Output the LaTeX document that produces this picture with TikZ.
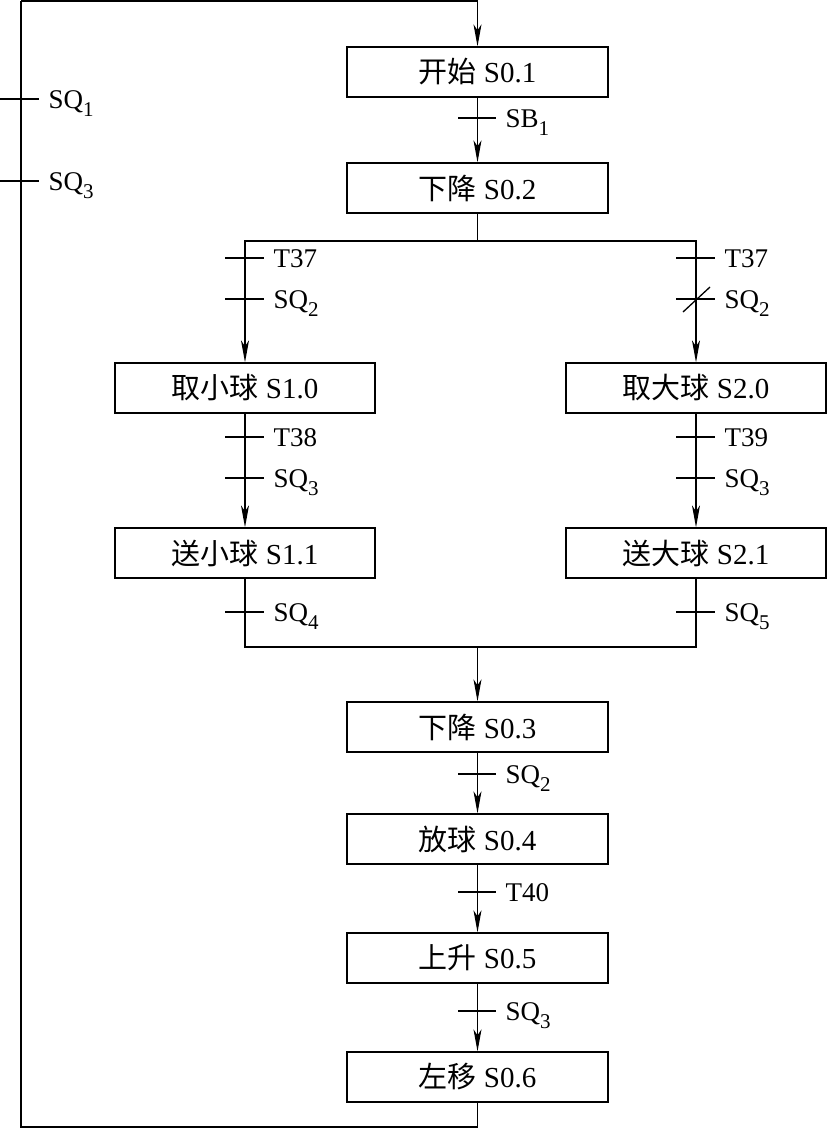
\documentclass[tikz,border=0pt]{standalone}
\usepackage{fontspec}
\setmainfont{Liberation Serif}
\newfontfamily\cjk{Noto Sans CJK SC}
\usetikzlibrary{arrows.meta,positioning,calc}
\newcommand\lowidx[1]{\raisebox{-8pt}{\fontsize{21}{21}\selectfont #1}}

\begin{document}
\begin{tikzpicture}[x=1pt,y=-1pt,
  sfcbox/.style={draw, line width=1.3pt, minimum width=261pt, minimum height=50pt,
                 inner sep=0pt, font=\fontsize{29}{29}\selectfont},
  cond/.style={anchor=base west, inner sep=0pt, xshift=9pt, yshift=-9pt,
               font=\fontsize{27}{27}\selectfont},
  flow/.style={line width=1.3pt},
  arr/.style={flow, -{Stealth[length=22pt,width=8pt,inset=6pt]}}]
  \useasboundingbox (0,0) rectangle (827,1128);

  % steps
  \node[sfcbox](s01) at (477.5,72){{\cjk 开始} S0.1};
  \node[sfcbox](s02) at (477.5,188){{\cjk 下降} S0.2};
  \node[sfcbox, minimum width=260pt](s10) at (245,388){{\cjk 取小球} S1.0};
  \node[sfcbox, minimum width=260pt](s20) at (696,388){{\cjk 取大球} S2.0};
  \node[sfcbox, minimum width=260pt](s11) at (245,553){{\cjk 送小球} S1.1};
  \node[sfcbox, minimum width=260pt](s21) at (696,553){{\cjk 送大球} S2.1};
  \node[sfcbox](s03) at (477.5,727){{\cjk 下降} S0.3};
  \node[sfcbox](s04) at (477.5,839){{\cjk 放球} S0.4};
  \node[sfcbox](s05) at (477.5,958){{\cjk 上升} S0.5};
  \node[sfcbox](s06) at (477.5,1077){{\cjk 左移} S0.6};

  % links
  \coordinate (br) at (477.5,241);
  \coordinate (jn) at (477.5,647);
  \coordinate (rb) at (477.5,1127);
  \coordinate (lb) at (21,1127);
  \coordinate (lt) at (21,1);
  \draw[arr] (s01) -- (s02);
  \draw[flow] (s02.south) -- (br);
  \draw[arr] (br) -| (s10.north);
  \draw[arr] (br) -| (s20.north);
  \draw[arr] (s10) -- (s11);
  \draw[arr] (s20) -- (s21);
  \draw[flow] (s11.south) |- (jn) -| (s21.south);
  \draw[arr] (jn) -- (s03);
  \draw[arr] (s03) -- (s04);
  \draw[arr] (s04) -- (s05);
  \draw[arr] (s05) -- (s06);
  \draw[flow] (s06.south) -- (rb);
  \draw[line width=2.4pt] (rb) -- (lb) -- (lt);
  \draw[arr] (lt) -| (s01.north);

  % transitions
  \draw[flow] (0,99) -- (39,99) node[cond](q1){SQ\lowidx{1}};
  \draw[flow] (0,181) -- (39,181) node[cond](q3a){SQ\lowidx{3}};
  \draw[flow] (458,118) -- (496,118) node[cond](b1){SB\lowidx{1}};
  \draw[flow] (225,258) -- (264,258) node[cond](t37a){T37};
  \draw[flow] (225,299) -- (264,299) node[cond](q2a){SQ\lowidx{2}};
  \draw[flow] (676,258) -- (715,258) node[cond](t37b){T37};
  \draw[flow] (676,299) -- (715,299) node[cond](q2b){SQ\lowidx{2}};
  \draw[flow] (683,312) -- (710,287);
  \draw[flow] (225,437) -- (264,437) node[cond](t38){T38};
  \draw[flow] (225,478) -- (264,478) node[cond](q3b){SQ\lowidx{3}};
  \draw[flow] (676,437) -- (715,437) node[cond](t39){T39};
  \draw[flow] (676,478) -- (715,478) node[cond](q3c){SQ\lowidx{3}};
  \draw[flow] (225,612) -- (264,612) node[cond](q4){SQ\lowidx{4}};
  \draw[flow] (676,612) -- (715,612) node[cond](q5){SQ\lowidx{5}};
  \draw[flow] (458,774) -- (496,774) node[cond](q2c){SQ\lowidx{2}};
  \draw[flow] (458,892) -- (496,892) node[cond](t40){T40};
  \draw[flow] (458,1011) -- (496,1011) node[cond](q3d){SQ\lowidx{3}};
\end{tikzpicture}
\end{document}
